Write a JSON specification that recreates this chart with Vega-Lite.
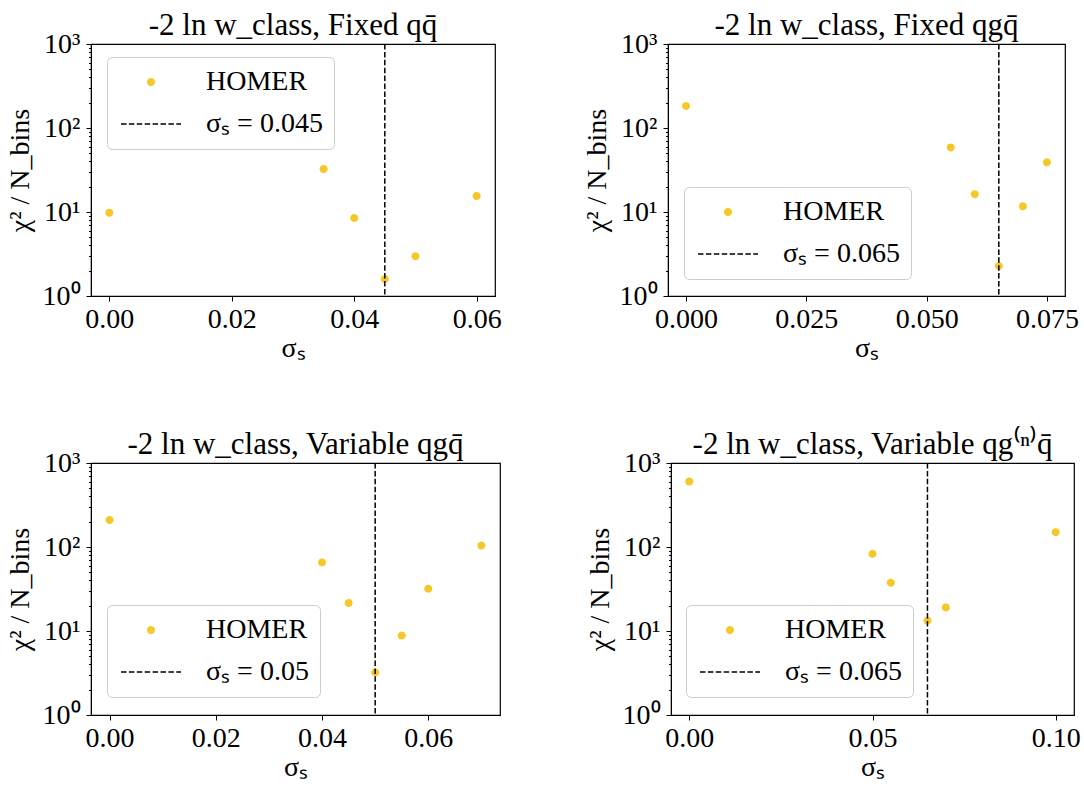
{
  "$schema": "https://vega.github.io/schema/vega-lite/v6.json",
  "background": "white",
  "padding": {"left": 5, "top": 9, "right": 0, "bottom": 0},
  "config": {
    "font": "Liberation Serif",
    "view": {"stroke": "black", "strokeWidth": 1.2},
    "axis": {"labelFont": "Liberation Serif", "labelFontSize": 28, "labelColor": "black", "titleFont": "Liberation Serif", "titleFontSize": 28, "titleFontWeight": "normal", "titleColor": "black", "domainColor": "black", "tickColor": "black", "grid": false, "tickSize": 5, "tickWidth": 1, "labelPadding": 4},
    "axisX": {"titlePadding": 1},
    "title": {"font": "Liberation Serif", "fontSize": 31, "fontWeight": "normal", "color": "black", "offset": -12, "frame": "group"},
    "legend": {"orient": "none", "title": null, "labelFont": "Liberation Serif", "labelFontSize": 28, "labelColor": "black", "symbolSize": 100, "symbolOffset": 19, "labelOffset": 41, "padding": 11, "rowPadding": 14, "strokeColor": "#cccccc", "fillColor": "white", "cornerRadius": 5, "labelLimit": 400, "symbolOpacity": 1}
  },
  "resolve": {"scale": {"x": "independent", "y": "independent", "color": "independent", "shape": "independent", "strokeDash": "independent", "strokeWidth": "independent"}, "legend": {"color": "independent", "shape": "independent", "strokeDash": "independent", "strokeWidth": "independent"}},
  "spacing": 65,
  "vconcat": [
    {
      "spacing": 80,
      "resolve": {"scale": {"x": "independent", "y": "independent", "color": "independent", "shape": "independent", "strokeDash": "independent", "strokeWidth": "independent"}, "legend": {"color": "independent", "shape": "independent", "strokeDash": "independent", "strokeWidth": "independent"}},
      "hconcat": [
        {
          "width": 404, "height": 252,
          "title": "-2 ln w_class, Fixed qq̄",
          "layer": [
            {
              "data": {"values": [
                {"sigma": 0.0, "chi2": 9.8, "s": "HOMER"},
                {"sigma": 0.035, "chi2": 32.5, "s": "HOMER"},
                {"sigma": 0.04, "chi2": 8.5, "s": "HOMER"},
                {"sigma": 0.045, "chi2": 1.59, "s": "HOMER"},
                {"sigma": 0.05, "chi2": 2.98, "s": "HOMER"},
                {"sigma": 0.06, "chi2": 15.5, "s": "HOMER"}
              ]},
              "mark": {"type": "point", "filled": false, "size": 100, "opacity": 1},
              "encoding": {
                "x": {"field": "sigma", "type": "quantitative", "scale": {"domain": [-0.003, 0.063], "nice": false, "zero": false}, "axis": {"values": [0, 0.02, 0.04, 0.06], "format": ".2f", "title": "σₛ", "labelFlush": false}},
                "y": {"field": "chi2", "type": "quantitative", "scale": {"type": "log", "domain": [1, 1000], "nice": false}, "axis": {"values": [1,2,3,4,5,6,7,8,9,10,20,30,40,50,60,70,80,90,100,200,300,400,500,600,700,800,900,1000], "labelExpr": "datum.value == 1 ? '10⁰' : datum.value == 10 ? '10¹' : datum.value == 100 ? '10²' : datum.value == 1000 ? '10³' : ''", "tickSize": {"condition": {"test": "datum.value == 1 || datum.value == 10 || datum.value == 100 || datum.value == 1000", "value": 5}, "value": 2.5}, "labelOverlap": false, "labelFlush": false, "labelBound": false, "title": "χ² / N_bins", "labelPadding": 6, "titlePadding": 8}},
                "color": {"field": "s", "type": "nominal", "scale": {"domain": ["HOMER", "σₛ = 0.045"], "range": ["#f5c827", "black"]}, "legend": {"legendX": 16, "legendY": 13}},
                "shape": {"field": "s", "type": "nominal", "scale": {"domain": ["HOMER", "σₛ = 0.045"], "range": ["M-0.4,0A0.4,0.4,0,1,1,0.4,0A0.4,0.4,0,1,1,-0.4,0Z", "M-6,0H6"]}, "legend": {"legendX": 16, "legendY": 13}},
                "strokeDash": {"field": "s", "type": "nominal", "scale": {"domain": ["HOMER", "σₛ = 0.045"], "range": [[1, 0], [5.5, 2.4]]}, "legend": {"legendX": 16, "legendY": 13}},
                "strokeWidth": {"field": "s", "type": "nominal", "scale": {"domain": ["HOMER", "σₛ = 0.045"], "range": [4, 1.5]}, "legend": {"legendX": 16, "legendY": 13}}
              }
            },
            {
              "data": {"values": [{"sigma": 0.045, "s": "σₛ = 0.045"}]},
              "mark": {"type": "rule"},
              "encoding": {
                "x": {"field": "sigma", "type": "quantitative"},
                "color": {"field": "s", "type": "nominal"},
                "strokeDash": {"field": "s", "type": "nominal"},
                "strokeWidth": {"field": "s", "type": "nominal"}
              }
            }
          ]
        },
        {
          "width": 397, "height": 252,
          "title": "-2 ln w_class, Fixed qgq̄",
          "layer": [
            {
              "data": {"values": [
                {"sigma": 0.0, "chi2": 183, "s": "HOMER"},
                {"sigma": 0.055, "chi2": 58.7, "s": "HOMER"},
                {"sigma": 0.06, "chi2": 16.3, "s": "HOMER"},
                {"sigma": 0.065, "chi2": 2.27, "s": "HOMER"},
                {"sigma": 0.07, "chi2": 11.7, "s": "HOMER"},
                {"sigma": 0.075, "chi2": 39, "s": "HOMER"}
              ]},
              "mark": {"type": "point", "filled": false, "size": 100, "opacity": 1},
              "encoding": {
                "x": {"field": "sigma", "type": "quantitative", "scale": {"domain": [-0.00375, 0.07875], "nice": false, "zero": false}, "axis": {"values": [0, 0.025, 0.05, 0.075], "format": ".3f", "title": "σₛ", "labelFlush": false}},
                "y": {"field": "chi2", "type": "quantitative", "scale": {"type": "log", "domain": [1, 1000], "nice": false}, "axis": {"values": [1,2,3,4,5,6,7,8,9,10,20,30,40,50,60,70,80,90,100,200,300,400,500,600,700,800,900,1000], "labelExpr": "datum.value == 1 ? '10⁰' : datum.value == 10 ? '10¹' : datum.value == 100 ? '10²' : datum.value == 1000 ? '10³' : ''", "tickSize": {"condition": {"test": "datum.value == 1 || datum.value == 10 || datum.value == 100 || datum.value == 1000", "value": 5}, "value": 2.5}, "labelOverlap": false, "labelFlush": false, "labelBound": false, "title": "χ² / N_bins", "labelPadding": 6, "titlePadding": 8}},
                "color": {"field": "s", "type": "nominal", "scale": {"domain": ["HOMER", "σₛ = 0.065"], "range": ["#f5c827", "black"]}, "legend": {"legendX": 16, "legendY": 143}},
                "shape": {"field": "s", "type": "nominal", "scale": {"domain": ["HOMER", "σₛ = 0.065"], "range": ["M-0.4,0A0.4,0.4,0,1,1,0.4,0A0.4,0.4,0,1,1,-0.4,0Z", "M-6,0H6"]}, "legend": {"legendX": 16, "legendY": 143}},
                "strokeDash": {"field": "s", "type": "nominal", "scale": {"domain": ["HOMER", "σₛ = 0.065"], "range": [[1, 0], [5.5, 2.4]]}, "legend": {"legendX": 16, "legendY": 143}},
                "strokeWidth": {"field": "s", "type": "nominal", "scale": {"domain": ["HOMER", "σₛ = 0.065"], "range": [4, 1.5]}, "legend": {"legendX": 16, "legendY": 143}}
              }
            },
            {
              "data": {"values": [{"sigma": 0.065, "s": "σₛ = 0.065"}]},
              "mark": {"type": "rule"},
              "encoding": {
                "x": {"field": "sigma", "type": "quantitative"},
                "color": {"field": "s", "type": "nominal"},
                "strokeDash": {"field": "s", "type": "nominal"},
                "strokeWidth": {"field": "s", "type": "nominal"}
              }
            }
          ]
        }
      ]
    },
    {
      "spacing": 84,
      "resolve": {"scale": {"x": "independent", "y": "independent", "color": "independent", "shape": "independent", "strokeDash": "independent", "strokeWidth": "independent"}, "legend": {"color": "independent", "shape": "independent", "strokeDash": "independent", "strokeWidth": "independent"}},
      "hconcat": [
        {
          "width": 409, "height": 252,
          "title": "-2 ln w_class, Variable qgq̄",
          "layer": [
            {
              "data": {"values": [
                {"sigma": 0.0, "chi2": 210, "s": "HOMER"},
                {"sigma": 0.04, "chi2": 65.5, "s": "HOMER"},
                {"sigma": 0.045, "chi2": 21.6, "s": "HOMER"},
                {"sigma": 0.05, "chi2": 3.21, "s": "HOMER"},
                {"sigma": 0.055, "chi2": 8.83, "s": "HOMER"},
                {"sigma": 0.06, "chi2": 31.9, "s": "HOMER"},
                {"sigma": 0.07, "chi2": 104, "s": "HOMER"}
              ]},
              "mark": {"type": "point", "filled": false, "size": 100, "opacity": 1},
              "encoding": {
                "x": {"field": "sigma", "type": "quantitative", "scale": {"domain": [-0.0035, 0.0735], "nice": false, "zero": false}, "axis": {"values": [0, 0.02, 0.04, 0.06], "format": ".2f", "title": "σₛ", "labelFlush": false}},
                "y": {"field": "chi2", "type": "quantitative", "scale": {"type": "log", "domain": [1, 1000], "nice": false}, "axis": {"values": [1,2,3,4,5,6,7,8,9,10,20,30,40,50,60,70,80,90,100,200,300,400,500,600,700,800,900,1000], "labelExpr": "datum.value == 1 ? '10⁰' : datum.value == 10 ? '10¹' : datum.value == 100 ? '10²' : datum.value == 1000 ? '10³' : ''", "tickSize": {"condition": {"test": "datum.value == 1 || datum.value == 10 || datum.value == 100 || datum.value == 1000", "value": 5}, "value": 2.5}, "labelOverlap": false, "labelFlush": false, "labelBound": false, "title": "χ² / N_bins", "labelPadding": 6, "titlePadding": 8}},
                "color": {"field": "s", "type": "nominal", "scale": {"domain": ["HOMER", "σₛ = 0.05"], "range": ["#f5c827", "black"]}, "legend": {"legendX": 16, "legendY": 142}},
                "shape": {"field": "s", "type": "nominal", "scale": {"domain": ["HOMER", "σₛ = 0.05"], "range": ["M-0.4,0A0.4,0.4,0,1,1,0.4,0A0.4,0.4,0,1,1,-0.4,0Z", "M-6,0H6"]}, "legend": {"legendX": 16, "legendY": 142}},
                "strokeDash": {"field": "s", "type": "nominal", "scale": {"domain": ["HOMER", "σₛ = 0.05"], "range": [[1, 0], [5.5, 2.4]]}, "legend": {"legendX": 16, "legendY": 142}},
                "strokeWidth": {"field": "s", "type": "nominal", "scale": {"domain": ["HOMER", "σₛ = 0.05"], "range": [4, 1.5]}, "legend": {"legendX": 16, "legendY": 142}}
              }
            },
            {
              "data": {"values": [{"sigma": 0.05, "s": "σₛ = 0.05"}]},
              "mark": {"type": "rule"},
              "encoding": {
                "x": {"field": "sigma", "type": "quantitative"},
                "color": {"field": "s", "type": "nominal"},
                "strokeDash": {"field": "s", "type": "nominal"},
                "strokeWidth": {"field": "s", "type": "nominal"}
              }
            }
          ]
        },
        {
          "width": 403, "height": 252,
          "title": {"text": "-2 ln w_class, Variable qg⁽ⁿ⁾q̄"},
          "layer": [
            {
              "data": {"values": [
                {"sigma": 0.0, "chi2": 602, "s": "HOMER"},
                {"sigma": 0.05, "chi2": 82.9, "s": "HOMER"},
                {"sigma": 0.055, "chi2": 37.6, "s": "HOMER"},
                {"sigma": 0.065, "chi2": 13.3, "s": "HOMER"},
                {"sigma": 0.07, "chi2": 19.1, "s": "HOMER"},
                {"sigma": 0.1, "chi2": 150, "s": "HOMER"}
              ]},
              "mark": {"type": "point", "filled": false, "size": 100, "opacity": 1},
              "encoding": {
                "x": {"field": "sigma", "type": "quantitative", "scale": {"domain": [-0.005, 0.105], "nice": false, "zero": false}, "axis": {"values": [0, 0.05, 0.1], "format": ".2f", "title": "σₛ", "labelFlush": false}},
                "y": {"field": "chi2", "type": "quantitative", "scale": {"type": "log", "domain": [1, 1000], "nice": false}, "axis": {"values": [1,2,3,4,5,6,7,8,9,10,20,30,40,50,60,70,80,90,100,200,300,400,500,600,700,800,900,1000], "labelExpr": "datum.value == 1 ? '10⁰' : datum.value == 10 ? '10¹' : datum.value == 100 ? '10²' : datum.value == 1000 ? '10³' : ''", "tickSize": {"condition": {"test": "datum.value == 1 || datum.value == 10 || datum.value == 100 || datum.value == 1000", "value": 5}, "value": 2.5}, "labelOverlap": false, "labelFlush": false, "labelBound": false, "title": "χ² / N_bins", "labelPadding": 6, "titlePadding": 8}},
                "color": {"field": "s", "type": "nominal", "scale": {"domain": ["HOMER", "σₛ = 0.065"], "range": ["#f5c827", "black"]}, "legend": {"legendX": 15, "legendY": 142}},
                "shape": {"field": "s", "type": "nominal", "scale": {"domain": ["HOMER", "σₛ = 0.065"], "range": ["M-0.4,0A0.4,0.4,0,1,1,0.4,0A0.4,0.4,0,1,1,-0.4,0Z", "M-6,0H6"]}, "legend": {"legendX": 15, "legendY": 142}},
                "strokeDash": {"field": "s", "type": "nominal", "scale": {"domain": ["HOMER", "σₛ = 0.065"], "range": [[1, 0], [5.5, 2.4]]}, "legend": {"legendX": 15, "legendY": 142}},
                "strokeWidth": {"field": "s", "type": "nominal", "scale": {"domain": ["HOMER", "σₛ = 0.065"], "range": [4, 1.5]}, "legend": {"legendX": 15, "legendY": 142}}
              }
            },
            {
              "data": {"values": [{"sigma": 0.065, "s": "σₛ = 0.065"}]},
              "mark": {"type": "rule"},
              "encoding": {
                "x": {"field": "sigma", "type": "quantitative"},
                "color": {"field": "s", "type": "nominal"},
                "strokeDash": {"field": "s", "type": "nominal"},
                "strokeWidth": {"field": "s", "type": "nominal"}
              }
            }
          ]
        }
      ]
    }
  ]
}
